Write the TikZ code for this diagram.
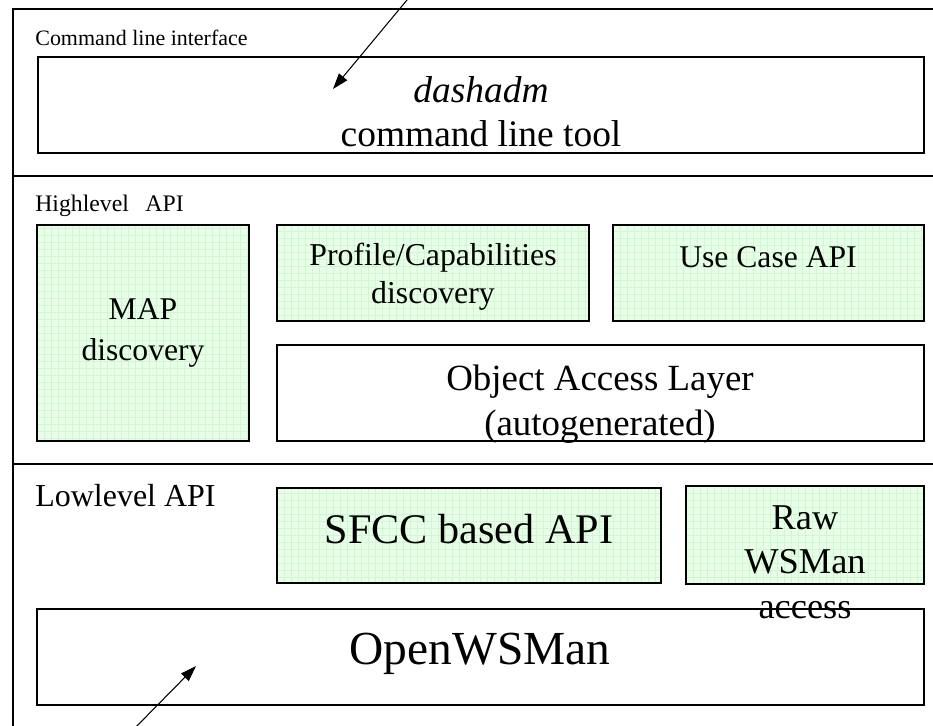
\documentclass[tikz,border=0pt]{standalone}
\usepackage{fontspec}
\setmainfont{Liberation Serif}
\usetikzlibrary{arrows.meta,fit}
\definecolor{boxgreen}{RGB}{230,255,230}
\definecolor{gridgreen}{RGB}{212,245,212}
\tikzset{
	frameline/.style={line width=1.3pt},
	whitebox/.style={draw, line width=1.4pt, inner sep=0pt},
	greenbox/.style={whitebox, fill=boxgreen,
		path picture={\draw[gridgreen, line width=0.3pt, step=0.14cm] (path picture bounding box.south west) grid (path picture bounding box.north east);}},
	layertext/.style={anchor=base west, inner sep=0pt},
	boxtext/.style={align=center, anchor=north, inner sep=0pt},
	pointer/.style={line width=0.6pt, -{Triangle[length=9pt,width=6pt]}}
}
\begin{document}
\begin{tikzpicture}[x=0.02cm, y=-0.02cm]
	\useasboundingbox (0,0) rectangle (933,726);
	\clip (0,0) rectangle (933,726);
	% layer frames
	\draw[frameline] (933,9) -- (13,9) -- (13,726);
	\draw[frameline] (13,176) -- (933,176);
	\draw[frameline] (13,464) -- (933,464);
	% boxes
	\node[whitebox, fit={(38,57) (924,153)}] (cli) {};
	\node[greenbox, fit={(37,225) (249,441)}] (map) {};
	\node[greenbox, fit={(277,225) (589,321)}] (profile) {};
	\node[greenbox, fit={(613,225) (924,321)}] (usecase) {};
	\node[whitebox, fit={(277,345) (924,441)}] (oal) {};
	\node[greenbox, fit={(277,488) (661,583)}] (sfcc) {};
	\node[greenbox, fit={(686,486) (924,584)}] (raw) {};
	\node[whitebox, fit={(37,609) (924,705)}] (owsman) {};
	% texts
	\node at (35,46)[layertext, font=\fontsize{12.5}{15}\selectfont] (clilabel) {Command line interface};
	\node at (481,76)[boxtext, font=\fontsize{21.3}{25}\selectfont] (clitext) {\textit{dashadm}\\command line tool};
	\node at (35,212)[layertext, font=\fontsize{13.5}{16}\selectfont] (hilabel) {Highlevel\hspace{0.7em}API};
	\node at (143,298)[boxtext, font=\fontsize{18}{23.5}\selectfont] (maptext) {MAP\\discovery};
	\node at (433,243)[boxtext, font=\fontsize{18.1}{21.5}\selectfont] (proftext) {Profile/Capabilities\\discovery};
	\node at (768,246)[boxtext, font=\fontsize{18}{21.5}\selectfont] (usetext) {Use Case API};
	\node at (600,365)[boxtext, font=\fontsize{21}{25.5}\selectfont] (oaltext) {Object Access Layer\\(autogenerated)};
	\node at (35,506)[layertext, font=\fontsize{18.2}{21}\selectfont] (lolabel) {Lowlevel API};
	\node at (469,543)[anchor=base, inner sep=0pt, font=\fontsize{24}{29}\selectfont] (sfcctext) {SFCC based API};
	\node at (805,505)[boxtext, font=\fontsize{20.7}{25.5}\selectfont] (rawtext) {Raw\\WSMan\\access};
	\node at (480,664)[anchor=base, inner sep=0pt, font=\fontsize{27}{32}\selectfont] (owstext) {OpenWSMan};
	% pointers
	\coordinate (topfrom) at (412,-6);
	\coordinate (topto) at (333,89);
	\coordinate (botfrom) at (131,732);
	\coordinate (botto) at (196,666);
	\draw[pointer] (topfrom) -- (topto);
	\draw[pointer] (botfrom) -- (botto);
\end{tikzpicture}
\end{document}
